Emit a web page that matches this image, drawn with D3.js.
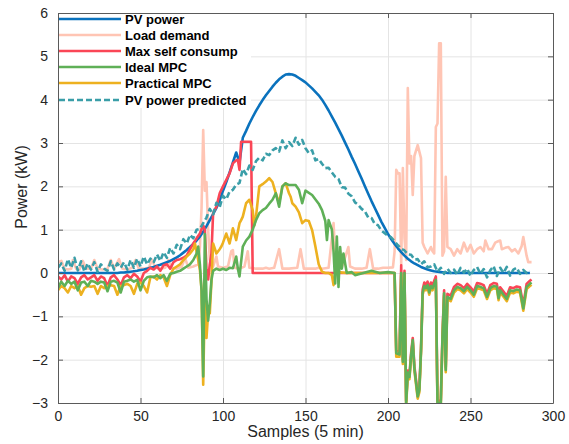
<!DOCTYPE html>
<html>
<head>
<meta charset="utf-8">
<script src="https://cdn.jsdelivr.net/npm/d3@7"></script>
<style>
  body { margin: 0; background: #fff; }
  text { font-family: 'Liberation Sans', Arial, Helvetica, sans-serif; }
</style>
</head>
<body>
<div id="chart"></div>
<script>
// tick values
const xTicks = [0, 50, 100, 150, 200, 250, 300]
const yTicks = [-3, -2, -1, 0, 1, 2, 3, 4, 5, 6]

const legendNames = ['PV power', 'Load demand', 'Max self consump', 'Ideal MPC', 'Practical MPC', 'PV power predicted']

// smooth curves, one value every 2 samples (0, 2, 4 ... 286)
const sampleStep = 2
const pvPower = [
  0, 0, 0, 0, 0, 0, 0, 0, 0, 0,
  0, 0, 0, 0, 0, 0, 0, 0, 0, 0.01,
  0.01, 0.02, 0.03, 0.04, 0.05, 0.07, 0.08, 0.1, 0.12, 0.14,
  0.17, 0.19, 0.22, 0.25, 0.28, 0.32, 0.36, 0.41, 0.47, 0.53,
  0.6, 0.67, 0.75, 0.84, 0.95, 1.08, 1.22, 1.36, 1.5, 1.68,
  1.9, 2.1, 2.32, 2.55, 2.78, 2.55, 3.12, 3.28, 3.45, 3.6,
  3.74, 3.87, 3.99, 4.1, 4.2, 4.3, 4.39, 4.47, 4.53, 4.58,
  4.59, 4.58, 4.55, 4.5, 4.45, 4.4, 4.33, 4.26, 4.18, 4.1,
  4.0, 3.88, 3.75, 3.61, 3.47, 3.32, 3.17, 3.01, 2.85, 2.68,
  2.52, 2.35, 2.18, 2.0, 1.83, 1.66, 1.5, 1.34, 1.18, 1.04,
  0.9, 0.78, 0.67, 0.57, 0.48, 0.4, 0.33, 0.27, 0.22, 0.18,
  0.14, 0.11, 0.08, 0.06, 0.04, 0.03, 0.02, 0.01, 0, 0,
  0, 0, 0, 0, 0, 0, 0, 0, 0, 0,
  0, 0, 0, 0, 0, 0, 0, 0, 0, 0,
  0, 0, 0, 0
]
const pvPredicted = [
  0.12, 0.22, 0.05, 0.32, 0.12, 0.35, 0.06, 0.27, 0.03, 0.22,
  0.08, 0.25, 0.03, 0.2, 0.1, 0.05, 0.27, 0.08, 0.22, 0.12,
  0.25, 0.08, 0.3, 0.12, 0.33, 0.15, 0.38, 0.2, 0.33, 0.25,
  0.43, 0.28, 0.48, 0.35, 0.58, 0.45, 0.65, 0.55, 0.78, 0.68,
  0.88, 0.8, 1.0, 1.02, 1.15, 1.28, 1.48, 1.35, 1.62, 1.52,
  1.78, 1.7, 1.88, 1.92, 2.04, 2.08, 2.4, 2.28, 2.48, 2.38,
  2.58, 2.66, 2.6, 2.75, 2.72, 2.83, 2.88, 2.8, 3.06, 2.88,
  3.02, 2.93, 3.12, 2.96, 3.07, 2.88, 2.77, 2.83, 2.6, 2.63,
  2.52, 2.42, 2.43, 2.32, 2.22, 2.17, 1.98, 1.97, 1.83, 1.77,
  1.63, 1.57, 1.48, 1.42, 1.28, 1.27, 1.13, 1.1, 0.98, 0.92,
  0.86, 0.82, 0.73, 0.64, 0.56, 0.52, 0.43, 0.42, 0.31, 0.32,
  0.2, 0.27, 0.13, 0.15, 0.2, 0.03, 0.12, -0.02, 0.1, 0.0,
  0.08, -0.04, 0.12, 0.01, 0.1, -0.07, 0.07, 0.14, -0.02, 0.09,
  -0.1, 0.06, 0.16, -0.07, 0.12, 0.0, 0.14, -0.06, 0.08, 0.12,
  -0.02, 0.07, 0.0, 0.04
]

// spiky series as [sample, kW] pairs
const loadDemand = [
  [0, 0.25], [2, 0.28], [4, 0.1], [6, 0.08], [8, 0.1], [9, 0.3], [11, 0.1], [13, 0.08], [15, 0.28], [17, 0.1],
  [20, 0.1], [22, 0.3], [24, 0.1], [27, 0.08], [30, 0.1], [32, 0.3], [34, 0.1], [37, 0.32], [39, 0.1], [42, 0.08],
  [45, 0.12], [47, 0.3], [49, 0.1], [52, 0.1], [55, 0.12], [57, 0.3], [59, 0.12], [62, 0.1], [65, 0.12], [67, 0.3],
  [69, 0.12], [72, 0.1], [75, 0.15], [77, 0.35], [79, 0.12], [82, 0.15], [85, 0.2], [86, 0.6], [87, 1.5], [88, 3.3],
  [89, 1.9], [90, 2.1], [91, 1.0], [92, 0.3], [94, 0.15], [96, 0.38], [97, 0.15], [100, 0.12], [103, 0.15], [105, 0.5],
  [106, 0.53], [107, 0.12], [110, 0.1], [113, 0.15], [115, 0.5], [116, 0.12], [120, 0.1], [124, 0.1], [126, 0.12], [128, 0.1],
  [131, 0.12], [134, 0.55], [136, 0.1], [140, 0.1], [145, 0.12], [147, 0.55], [149, 0.1], [152, 0.1], [156, 0.1], [158, 0.12],
  [160, 0.1], [164, 0.12], [167, 1.15], [168, 0.4], [169, 0.1], [172, 0.12], [176, 0.6], [177, 0.15], [180, 0.1], [184, 0.1],
  [187, 0.12], [189, 0.55], [191, 0.1], [194, 0.1], [197, 0.12], [200, 0.12], [203, 0.13], [204, 0.5], [205, 2.38], [206, 2.3],
  [207, 2.3], [208, 0.2], [209, 2.42], [210, 0.8], [211, 0.3], [212, 4.27], [213, 2.53], [214, 2.7], [215, 1.8], [216, 2.7],
  [218, 2.95], [219, 2.8], [220, 2.65], [221, 0.7], [222, 0.6], [224, 0.45], [226, 0.6], [227, 0.5], [228, 0.45], [229, 3.37],
  [230, 3.45], [231, 5.3], [232, 5.3], [233, 0.4], [234, 0.5], [235, 2.22], [236, 0.6], [238, 0.55], [240, 0.4], [242, 0.55],
  [244, 0.45], [246, 0.7], [248, 0.5], [250, 0.65], [252, 0.45], [254, 0.55], [256, 0.6], [258, 0.5], [259, 0.75], [261, 0.55],
  [263, 0.55], [265, 0.7], [266, 0.72], [268, 0.75], [269, 0.55], [271, 0.58], [273, 0.6], [275, 0.5], [277, 0.55], [279, 0.45],
  [281, 0.62], [282, 0.83], [284, 0.4], [285, 0.25], [287, 0.25]
]

const maxSelfConsump = [
  [0, -0.08], [2, -0.15], [4, -0.05], [6, -0.2], [8, -0.08], [10, -0.12], [12, -0.25], [14, -0.1], [16, -0.05], [18, -0.15],
  [20, -0.1], [22, -0.05], [24, -0.18], [26, -0.08], [28, -0.12], [30, -0.3], [32, -0.1], [34, -0.05], [36, -0.15], [38, -0.28],
  [40, -0.1], [42, -0.05], [44, -0.12], [46, -0.02], [48, -0.08], [50, -0.2], [52, 0.0], [54, 0.05], [56, 0.12], [58, 0.08],
  [60, 0.15], [62, 0.05], [64, 0.18], [66, 0.2], [68, 0.1], [70, 0.25], [72, 0.3], [74, 0.32], [76, 0.35], [78, 0.4],
  [80, 0.55], [82, 0.68], [84, 0.8], [86, 0.91], [88, 1.1], [89, 1.0], [90, 0.07], [91, -0.15], [92, 0.2], [93, 0.45],
  [94, 1.38], [96, 1.53], [98, 1.84], [100, 2.0], [102, 2.15], [104, 2.3], [106, 2.53], [108, 2.6], [109, 2.61], [110, 2.38],
  [111, 3.03], [117, 3.03], [118, 0.0], [204, 0.0],
  [205, -1.8], [207, -1.82], [208, 0.18], [209, -2.0], [210, 0.05], [211, -2.95], [212, -2.25], [213, -2.35], [214, -1.85], [215, -1.5],
  [216, -2.15], [218, -2.8], [219, -2.65], [220, -1.75], [221, -0.38], [222, -0.22], [223, -0.28], [224, -0.2], [225, -0.38], [226, -0.22],
  [227, -0.28], [229, -0.08], [230, -2.95], [232, -2.95], [233, -1.45], [234, -0.4], [235, -2.18], [236, -0.48], [238, -0.52], [240, -0.32],
  [242, -0.25], [244, -0.28], [246, -0.35], [248, -0.25], [250, -0.33], [252, -0.43], [254, -0.23], [256, -0.25], [258, -0.28], [260, -0.48],
  [262, -0.28], [264, -0.23], [266, -0.25], [267, -0.51], [268, -0.33], [270, -0.43], [272, -0.53], [274, -0.33], [276, -0.35], [278, -0.31],
  [280, -0.33], [282, -0.75], [284, -0.25], [286, -0.18], [287, -0.15]
]

const idealMPC = [
  [0, -0.35], [2, -0.2], [4, -0.3], [6, -0.18], [8, -0.25], [10, -0.2], [12, -0.4], [14, -0.22], [16, -0.2], [18, -0.3],
  [20, -0.18], [22, -0.2], [24, -0.25], [26, -0.2], [28, -0.22], [30, -0.42], [32, -0.2], [34, -0.18], [36, -0.22], [38, -0.45],
  [40, -0.2], [42, -0.18], [44, -0.15], [46, -0.2], [48, -0.16], [50, -0.4], [52, -0.18], [54, -0.1], [56, -0.08], [58, -0.1],
  [60, -0.05], [62, -0.12], [64, -0.05], [66, -0.18], [68, -0.02], [70, 0.0], [72, 0.03], [74, 0.05], [76, 0.1], [78, 0.15],
  [80, 0.2], [82, 0.3], [84, 0.45], [85, 0.61], [86, 0.2], [87, -0.4], [88, -2.39], [89, 0.9], [90, -0.6], [91, -1.1],
  [92, -0.7], [93, -0.16], [94, 0.05], [96, 0.1], [98, 0.07], [100, 0.1], [102, 0.07], [104, 0.12], [106, 0.11], [108, 0.38],
  [109, 0.1], [110, -0.08], [112, 0.61], [114, 0.75], [116, 0.84], [118, 1.0], [120, 1.22], [122, 1.38], [124, 1.45], [126, 1.5],
  [128, 1.6], [130, 1.69], [132, 1.84], [134, 1.53], [136, 2.0], [138, 2.07], [140, 2.03], [142, 2.03], [144, 2.03], [146, 1.92],
  [148, 1.61], [150, 1.9], [154, 1.8], [158, 1.6], [160, 1.45], [162, 1.2], [163, 0.76], [164, 1.22], [166, 1.0], [167, 0.5],
  [168, -0.24], [169, 0.84], [170, -0.32], [171, 0.6], [172, 0.1], [173, 0.45], [175, 0.0], [178, 0.02], [180, -0.05], [185, 0.0],
  [190, 0.05], [195, 0.0], [200, 0.02], [204, 0.0],
  [205, -1.85], [207, -1.88], [208, 0.0], [209, -2.05], [210, 0.0], [211, -3.0], [212, -2.3], [213, -2.4], [214, -1.9], [215, -1.55],
  [216, -2.2], [218, -2.85], [219, -2.7], [220, -1.8], [221, -0.45], [222, -0.3], [223, -0.35], [224, -0.28], [225, -0.45], [226, -0.3],
  [227, -0.35], [229, -0.16], [230, -3.0], [232, -3.0], [233, -1.5], [234, -0.47], [235, -2.24], [236, -0.55], [238, -0.6], [240, -0.4],
  [242, -0.32], [244, -0.35], [246, -0.42], [248, -0.32], [250, -0.4], [252, -0.5], [254, -0.3], [256, -0.32], [258, -0.35], [260, -0.55],
  [262, -0.35], [264, -0.3], [266, -0.32], [267, -0.58], [268, -0.4], [270, -0.5], [272, -0.6], [274, -0.4], [276, -0.42], [278, -0.38],
  [280, -0.4], [282, -0.82], [284, -0.32], [286, -0.25], [287, -0.22]
]

const practicalMPC = [
  [0, -0.4], [2, -0.3], [4, -0.35], [6, -0.45], [8, -0.3], [10, -0.35], [12, -0.3], [14, -0.5], [16, -0.35], [18, -0.3],
  [20, -0.32], [22, -0.3], [24, -0.48], [26, -0.3], [28, -0.35], [30, -0.3], [32, -0.28], [34, -0.3], [36, -0.5], [38, -0.3],
  [40, -0.28], [42, -0.25], [44, -0.3], [46, -0.48], [48, -0.25], [50, -0.22], [52, -0.3], [54, -0.45], [56, -0.1], [58, -0.08],
  [60, -0.15], [62, -0.05], [64, -0.1], [66, -0.3], [68, -0.05], [70, 0.1], [72, 0.15], [74, 0.2], [76, 0.3], [78, 0.38],
  [80, 0.45], [82, 0.55], [83, 0.68], [85, 0.3], [86, 0.07], [87, -0.39], [88, -2.58], [89, -0.5], [90, -1.5], [91, -0.9],
  [92, -0.93], [93, -0.2], [94, 0.68], [96, 0.45], [98, 0.55], [99, 0.61], [100, 0.7], [102, 0.91], [104, 0.68], [106, 1.03],
  [108, 0.76], [110, 1.15], [111, 1.22], [112, 1.3], [114, 1.61], [116, 1.69], [118, 1.45], [119, 1.1], [120, 1.3], [122, 2.0],
  [124, 2.05], [126, 2.11], [128, 2.19], [130, 2.1], [132, 1.84], [134, 1.61], [136, 2.0], [138, 2.07], [140, 1.84], [141, 1.76],
  [142, 1.61], [144, 1.53], [146, 1.4], [148, 1.15], [150, 1.22], [152, 1.2], [154, 0.99], [156, 0.61], [158, 0.2], [160, 0.03],
  [162, 0.0], [164, 0.0], [166, -0.05], [167, -0.28], [168, -0.02], [170, 0.02], [175, 0.0], [180, 0.0], [190, 0.0], [200, 0.0],
  [204, 0.0],
  [205, -1.93], [207, -1.93], [208, -0.05], [209, -2.1], [210, -0.05], [211, -3.05], [212, -2.35], [213, -2.45], [214, -1.95], [215, -1.6],
  [216, -2.25], [218, -2.9], [219, -2.75], [220, -1.85], [221, -0.5], [222, -0.35], [223, -0.4], [224, -0.33], [225, -0.5], [226, -0.35],
  [227, -0.4], [229, -0.21], [230, -3.05], [232, -3.05], [233, -1.55], [234, -0.52], [235, -2.29], [236, -0.6], [238, -0.65], [240, -0.45],
  [242, -0.37], [244, -0.4], [246, -0.47], [248, -0.37], [250, -0.45], [252, -0.55], [254, -0.35], [256, -0.37], [258, -0.4], [260, -0.6],
  [262, -0.4], [264, -0.35], [266, -0.37], [267, -0.63], [268, -0.45], [270, -0.55], [272, -0.65], [274, -0.45], [276, -0.47], [278, -0.43],
  [280, -0.45], [282, -0.87], [284, -0.37], [286, -0.3], [287, -0.27]
]

const svgDimension = { width: 569, height: 444 }
const plot = { left: 58, right: 553, top: 13, bottom: 403 }
const innerHeight = plot.bottom - plot.top
const innerWidth = plot.right - plot.left

const svg = d3
  .select('#chart')
  .append('svg')
  .attr('width', svgDimension.width)
  .attr('height', svgDimension.height)

const xScale = d3.scaleLinear().domain([0, 300]).range([plot.left, plot.right])
const yScale = d3.scaleLinear().domain([-3, 6]).range([plot.bottom, plot.top])

// grid lines (no labels)
svg.append('g')
  .attr('transform', `translate(0, ${plot.bottom})`)
  .call(d3.axisBottom(xScale).tickValues(xTicks).tickSize(-innerHeight).tickFormat(''))
  .call(g => g.select('.domain').remove())
  .call(g => g.selectAll('text').remove())
  .selectAll('line').attr('stroke', '#e4e4e4')
svg.append('g')
  .attr('transform', `translate(${plot.left}, 0)`)
  .call(d3.axisLeft(yScale).tickValues(yTicks).tickSize(-innerWidth).tickFormat(''))
  .call(g => g.select('.domain').remove())
  .call(g => g.selectAll('text').remove())
  .selectAll('line').attr('stroke', '#e4e4e4')

svg.append('clipPath').attr('id', 'plot-clip')
  .append('rect')
  .attr('x', plot.left).attr('y', plot.top)
  .attr('width', innerWidth).attr('height', innerHeight)

const lineGen = d3.line()
  .x(d => xScale(d[0]))
  .y(d => yScale(d[1]))

const toPairs = arr => arr.map((v, i) => [i * sampleStep, v])

const series = [
  { name: 'Load demand', data: loadDemand, color: '#ffc5b4', dash: null },
  { name: 'PV power', data: toPairs(pvPower), color: '#0a72bd', dash: null },
  { name: 'Max self consump', data: maxSelfConsump, color: '#fa4656', dash: null },
  { name: 'Practical MPC', data: practicalMPC, color: '#edb120', dash: null },
  { name: 'Ideal MPC', data: idealMPC, color: '#5fb057', dash: null },
  { name: 'PV power predicted', data: toPairs(pvPredicted), color: '#3a9ea8', dash: '6,3' },
]

const linesGroup = svg.append('g').attr('clip-path', 'url(#plot-clip)')
linesGroup.selectAll('path')
  .data(series)
  .join('path')
  .attr('d', d => lineGen(d.data))
  .attr('fill', 'none')
  .attr('stroke', d => d.color)
  .attr('stroke-width', 2.6)
  .attr('stroke-linejoin', 'round')
  .attr('stroke-dasharray', d => d.dash)

// axes with inward ticks on all four sides
const axisColor = '#262626'
const styleAxis = g => {
  g.select('.domain').attr('stroke', '#5a5a5a')
  g.selectAll('.tick line').attr('stroke', '#5a5a5a')
  g.selectAll('text').attr('fill', axisColor).attr('font-size', '14px')
}
svg.append('g')
  .attr('transform', `translate(0, ${plot.bottom})`)
  .call(d3.axisBottom(xScale).tickValues(xTicks).tickSize(-5).tickSizeOuter(0).tickPadding(8))
  .call(styleAxis)
svg.append('g')
  .attr('transform', `translate(0, ${plot.top})`)
  .call(d3.axisTop(xScale).tickValues(xTicks).tickSize(-5).tickSizeOuter(0).tickFormat(''))
  .call(g => g.selectAll('text').remove())
  .call(styleAxis)
svg.append('g')
  .attr('transform', `translate(${plot.left}, 0)`)
  .call(d3.axisLeft(yScale).tickValues(yTicks).tickSize(-5).tickSizeOuter(0).tickPadding(10))
  .call(styleAxis)
svg.append('g')
  .attr('transform', `translate(${plot.right}, 0)`)
  .call(d3.axisRight(yScale).tickValues(yTicks).tickSize(-5).tickSizeOuter(0).tickFormat(''))
  .call(g => g.selectAll('text').remove())
  .call(styleAxis)

// axis labels
svg.append('text')
  .attr('x', (plot.left + plot.right) / 2)
  .attr('y', 437)
  .attr('text-anchor', 'middle')
  .attr('font-size', '16px')
  .attr('fill', axisColor)
  .text('Samples (5 min)')
svg.append('text')
  .attr('transform', 'translate(27, 187) rotate(-90)')
  .attr('text-anchor', 'middle')
  .attr('font-size', '16px')
  .attr('fill', axisColor)
  .text('Power (kW)')

// legend
const legendRows = [19, 35, 51, 67, 83, 100]
const legend = svg.append('g')
legend.append('rect')
  .attr('x', plot.left + 1).attr('y', plot.top + 1)
  .attr('width', 192).attr('height', 94)
  .attr('fill', '#fff')
const legendItems = legend.selectAll('g.item')
  .data(legendNames.map((name, i) => ({ s: series.find(d => d.name === name), y: legendRows[i] })))
  .join('g')
  .classed('item', true)
legendItems.append('line')
  .attr('x1', plot.left + 1).attr('x2', 121)
  .attr('y1', d => d.y).attr('y2', d => d.y)
  .attr('stroke', d => d.s.color)
  .attr('stroke-width', 2.6)
  .attr('stroke-dasharray', d => d.s.dash)
legendItems.append('text')
  .attr('x', 125)
  .attr('y', d => d.y)
  .attr('dy', '0.35em')
  .attr('font-size', '13px')
  .attr('font-weight', 'bold')
  .attr('fill', '#000')
  .text(d => d.s.name)
</script>
</body>
</html>
